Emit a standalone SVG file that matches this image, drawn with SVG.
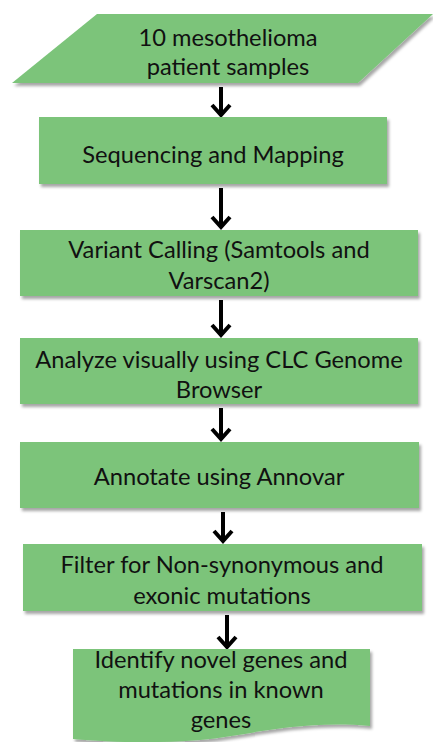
<svg xmlns="http://www.w3.org/2000/svg" width="433" height="742" viewBox="0 0 433 742">
<style>
.n{fill:#7cc47a;filter:url(#sh)}
.t{font-family:Lato,"Open Sans",sans-serif;font-size:23.7px;fill:#111;text-anchor:middle}
.c{stroke:#000;stroke-width:4;fill:none;stroke-linecap:butt}
.h{stroke:#000;stroke-width:4;fill:none;stroke-linejoin:miter}
</style>
<defs>
<filter id="sh" x="-5%" y="-10%" width="115%" height="130%">
<feDropShadow dx="2" dy="3" stdDeviation="1.5" flood-color="#000" flood-opacity="0.35"/>
</filter>
</defs>
<rect width="433" height="742" fill="#fff"/>
<g id="connectors">
<path class="c" d="M221 87V114"/><path class="h" d="M212 105L221 115L230 105"/>
<path class="c" d="M221 188V226"/><path class="h" d="M212 217L221 227L230 217"/>
<path class="c" d="M221 300V334"/><path class="h" d="M212 325L221 335L230 325"/>
<path class="c" d="M221 408V438"/><path class="h" d="M212 429L221 439L230 429"/>
<path class="c" d="M223 512V540"/><path class="h" d="M214 531L223 541L232 531"/>
<path class="c" d="M227 615V646"/><path class="h" d="M218 637L227 647L236 637"/>
</g>
<g id="n0">
<polygon class="n" points="97,14 433,14 358,83 12,83"/>
<text class="t" x="228" y="46">10 mesothelioma</text>
<text class="t" x="228" y="75">patient samples</text>
</g>
<g id="n1">
<rect class="n" x="39" y="117" width="348" height="67"/>
<text class="t" x="213" y="163">Sequencing and Mapping</text>
</g>
<g id="n2">
<rect class="n" x="20" y="230" width="398" height="66"/>
<text class="t" x="219" y="258">Variant Calling (Samtools and</text>
<text class="t" x="219" y="289">Varscan2)</text>
</g>
<g id="n3">
<rect class="n" x="20" y="338" width="398" height="66"/>
<text class="t" x="219" y="368">Analyze visually using CLC Genome</text>
<text class="t" x="219" y="398">Browser</text>
</g>
<g id="n4">
<rect class="n" x="20" y="442" width="399" height="66"/>
<text class="t" x="219" y="485">Annotate using Annovar</text>
</g>
<g id="n5">
<rect class="n" x="23" y="544" width="399" height="67"/>
<text class="t" x="222" y="573">Filter for Non-synonymous and</text>
<text class="t" x="222" y="604">exonic mutations</text>
</g>
<g id="n6">
<path class="n" d="M73 649H370V726C300 720 250 735 200 740C150 744 110 742 73 739Z"/>
<text class="t" x="221" y="668">Identify novel genes and</text>
<text class="t" x="221" y="698">mutations in known</text>
<text class="t" x="221" y="728">genes</text>
</g>
</svg>
